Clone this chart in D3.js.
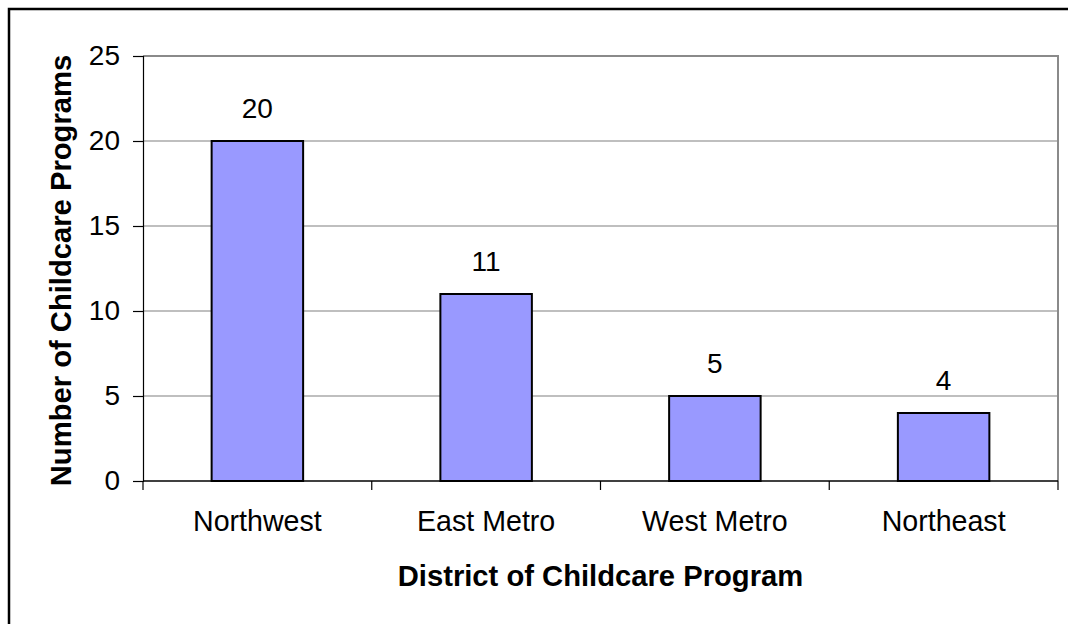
<!DOCTYPE html>
<html>
<head>
<meta charset="utf-8">
<script src="https://cdn.jsdelivr.net/npm/d3@7"></script>
<style>
  html, body { margin: 0; padding: 0; background: #fff; }
  svg { display: block; }
  text { font-family: "Liberation Sans", Arial, sans-serif; fill: #000; }
</style>
</head>
<body>
<svg id="chart" width="1068" height="624"></svg>
<script>
// District counts of childcare programs
const districts = ["Northwest", "East Metro", "West Metro", "Northeast"];
const programCounts = [20, 11, 5, 4];
const yTicks = [0, 5, 10, 15, 20, 25];

const svg = d3.select("#chart");
const plot = { left: 143, right: 1058, top: 56, bottom: 481 };
const bodyFont = "28px";
const titleFont = "29.2px";

// Outer chart frame
svg.append("rect")
  .attr("x", 9).attr("y", 9)
  .attr("width", 1200).attr("height", 800)
  .attr("fill", "#fff")
  .attr("stroke", "#000").attr("stroke-width", 2.5);

const x = d3.scaleBand()
  .domain(districts)
  .range([plot.left, plot.right])
  .padding(0);

const y = d3.scaleLinear()
  .domain([0, 25])
  .range([plot.bottom, plot.top]);

// Horizontal gridlines
svg.append("g")
  .selectAll("line")
  .data(yTicks.filter(d => d > 0 && d < 25))
  .join("line")
  .attr("x1", plot.left).attr("x2", plot.right)
  .attr("y1", d => y(d)).attr("y2", d => y(d))
  .attr("stroke", "#808080").attr("stroke-width", 1.2);

// Plot area border (top and right, grey)
svg.append("path")
  .attr("d", `M${plot.left},${plot.top}H${plot.right}V${plot.bottom}`)
  .attr("fill", "none")
  .attr("stroke", "#8a8a8a").attr("stroke-width", 2);

// Bars
const barFrac = 0.4;
const rows = districts.map((d, i) => ({ d, v: programCounts[i] }));
svg.append("g")
  .selectAll("rect")
  .data(rows)
  .join("rect")
  .attr("x", r => x(r.d) + x.bandwidth() * (1 - barFrac) / 2)
  .attr("width", x.bandwidth() * barFrac)
  .attr("y", r => y(r.v))
  .attr("height", r => y(0) - y(r.v))
  .attr("fill", "#9999ff")
  .attr("stroke", "#000").attr("stroke-width", 2);

// Value labels above bars
svg.append("g")
  .selectAll("text")
  .data(rows)
  .join("text")
  .attr("x", r => x(r.d) + x.bandwidth() / 2)
  .attr("y", r => y(r.v) - 23)
  .attr("text-anchor", "middle")
  .style("font-size", bodyFont)
  .text(r => r.v);

// Y axis
const yAxis = svg.append("g")
  .attr("transform", `translate(${plot.left},0)`)
  .call(d3.axisLeft(y).tickValues(yTicks).tickSize(10).tickPadding(13).tickFormat(d3.format("d")));
yAxis.select(".domain").attr("stroke", "#000").attr("stroke-width", 1.2);
yAxis.selectAll(".tick line").attr("stroke", "#000").attr("stroke-width", 1.2);
yAxis.selectAll(".tick text")
  .style("font-size", bodyFont)
  .style("font-family", "'Liberation Sans', Arial, sans-serif")
  .attr("fill", "#000");

// X axis with ticks between categories
const xAxis = svg.append("g")
  .attr("transform", `translate(0,${plot.bottom})`)
  .call(d3.axisBottom(x).tickSize(0).tickPadding(50));
xAxis.select(".domain").attr("stroke", "#000").attr("stroke-width", 1.5)
  .attr("d", `M${plot.left},0H${plot.right}`);
xAxis.selectAll(".tick text")
  .style("font-size", "28.6px")
  .style("font-family", "'Liberation Sans', Arial, sans-serif")
  .attr("fill", "#000")
  .attr("dy", 0);

svg.append("g")
  .selectAll("line")
  .data(d3.range(districts.length + 1))
  .join("line")
  .attr("x1", i => plot.left + i * x.step())
  .attr("x2", i => plot.left + i * x.step())
  .attr("y1", plot.bottom).attr("y2", plot.bottom + 9)
  .attr("stroke", "#000").attr("stroke-width", 1.2);

// Axis titles
svg.append("text")
  .attr("x", (plot.left + plot.right) / 2)
  .attr("y", 586)
  .attr("text-anchor", "middle")
  .style("font-size", titleFont)
  .style("font-weight", "bold")
  .text("District of Childcare Program");

svg.append("text")
  .attr("transform", `translate(71,${(plot.top + plot.bottom) / 2 + 2}) rotate(-90)`)
  .attr("text-anchor", "middle")
  .style("font-size", titleFont)
  .style("font-weight", "bold")
  .text("Number of Childcare Programs");
</script>
</body>
</html>
